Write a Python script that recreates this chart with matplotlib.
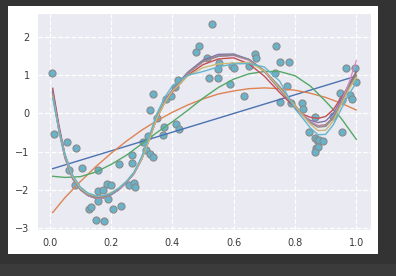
import matplotlib
matplotlib.use("Agg")
import matplotlib.pyplot as plt
from matplotlib.patches import Rectangle

# puntos de datos (ruidosos)
pts_x = [0.008, 0.015, 0.055, 0.087, 0.062, 0.107, 0.159, 0.227, 0.083, 0.186,
         0.199, 0.159, 0.174, 0.158, 0.190, 0.128, 0.136, 0.207, 0.234, 0.152,
         0.176, 0.259, 0.275, 0.277, 0.267, 0.267, 0.313, 0.305, 0.327, 0.338,
         0.371, 0.320, 0.374, 0.349, 0.327, 0.338, 0.381, 0.397, 0.409, 0.420,
         0.413, 0.423, 0.478, 0.487, 0.514, 0.519, 0.530, 0.551, 0.550, 0.550,
         0.589, 0.596, 0.602, 0.651, 0.671, 0.673, 0.635, 0.738, 0.752, 0.781,
         0.736, 0.774, 0.752, 0.786, 0.822, 0.825, 0.866, 0.925, 0.846, 0.865,
         0.872, 0.880, 0.893, 0.869, 0.875, 0.864, 0.952, 0.966, 0.997, 1.000,
         0.948, 0.952, 0.980, 0.985]
pts_y = [1.07, -0.55, -0.75, -0.92, -1.48, -1.44, -1.49, -1.33, -1.88, -1.86,
         -1.89, -2.04, -2.01, -2.29, -2.25, -2.50, -2.46, -2.50, -2.43, -2.80,
         -2.83, -1.88, -1.82, -1.94, -1.31, -1.09, -0.95, -0.74, -1.07, -1.14,
         -0.56, -0.58, -0.36, -0.13, 0.10, 0.51, 0.39, 0.47, 0.69, 0.87,
         -0.28, -0.42, 1.60, 1.77, 1.45, 0.94, 2.36, 1.33, 1.16, 0.93,
         0.77, 1.24, 1.18, 1.24, 1.55, 1.46, 0.45, 1.76, 1.36, 1.36,
         1.05, 0.71, 0.31, 0.27, 0.27, 0.11, -0.10, -0.08, -0.48, -0.64,
         -0.70, -0.70, -0.72, -0.92, -0.88, -1.00, -0.49, 1.18, 1.18, 0.83,
         0.53, 0.34, 0.49, 0.38]

# ajuste grado 1
lin_x = [0.01, 1.0]
lin_y = [-1.45, 0.98]

# ajustes grado 2 y 3
low_x = [0.01, 0.05, 0.1, 0.15, 0.2, 0.25, 0.3, 0.35, 0.4, 0.45, 0.5,
         0.55, 0.6, 0.65, 0.7, 0.75, 0.8, 0.85, 0.9, 0.95, 1.0]
quad_y = [-2.60, -2.21, -1.79, -1.40, -1.05, -0.73, -0.44, -0.19, 0.03, 0.22, 0.38,
          0.51, 0.59, 0.65, 0.67, 0.65, 0.61, 0.53, 0.42, 0.27, 0.09]
cub_y = [-1.65, -1.68, -1.66, -1.54, -1.34, -1.10, -0.80, -0.50, -0.22, 0.08, 0.40,
         0.68, 0.90, 1.04, 1.10, 1.10, 0.99, 0.72, 0.32, -0.12, -0.68]

# ajustes de grado alto
high_x = [0.01, 0.03, 0.05, 0.075, 0.1, 0.125, 0.15, 0.175, 0.2, 0.225, 0.25,
          0.275, 0.3, 0.325, 0.35, 0.375, 0.4, 0.45, 0.5, 0.55, 0.6, 0.65,
          0.7, 0.75, 0.8, 0.825, 0.85, 0.875, 0.9, 0.925, 0.95, 0.975, 1.0]
fit4 = [0.66, -0.30, -1.08, -1.66, -1.96, -2.12, -2.19, -2.19, -2.12, -1.99, -1.80,
        -1.56, -1.18, -0.68, -0.12, 0.28, 0.56, 1.00, 1.28, 1.43, 1.46, 1.30,
        0.98, 0.55, 0.15, -0.02, -0.10, -0.13, -0.08, 0.10, 0.40, 0.72, 1.00]
fit5 = [0.60, -0.36, -1.12, -1.69, -1.99, -2.15, -2.23, -2.22, -2.14, -2.01, -1.82,
        -1.58, -1.20, -0.66, -0.08, 0.32, 0.62, 1.08, 1.40, 1.55, 1.56, 1.42,
        1.10, 0.63, 0.17, -0.05, -0.18, -0.24, -0.20, 0.00, 0.35, 0.75, 1.10]
fit6 = [0.55, -0.40, -1.15, -1.71, -2.00, -2.15, -2.22, -2.21, -2.13, -2.00, -1.81,
        -1.58, -1.20, -0.67, -0.09, 0.30, 0.60, 1.06, 1.37, 1.51, 1.53, 1.40,
        1.12, 0.67, 0.19, -0.04, -0.22, -0.32, -0.30, -0.10, 0.28, 0.70, 1.08]
fit7 = [0.50, -0.45, -1.18, -1.72, -2.01, -2.16, -2.23, -2.22, -2.13, -2.00, -1.81,
        -1.58, -1.21, -0.67, -0.09, 0.30, 0.60, 1.05, 1.35, 1.50, 1.52, 1.40,
        1.12, 0.70, 0.21, -0.03, -0.22, -0.33, -0.33, -0.12, 0.28, 0.78, 1.38]
fit8 = [0.48, -0.44, -1.16, -1.71, -2.00, -2.15, -2.22, -2.21, -2.13, -1.99, -1.80,
        -1.57, -1.19, -0.66, -0.08, 0.31, 0.60, 1.05, 1.36, 1.50, 1.53, 1.42,
        1.13, 0.70, 0.22, -0.04, -0.24, -0.36, -0.34, -0.12, 0.26, 0.68, 1.00]
fit9 = [0.45, -0.42, -1.10, -1.66, -1.96, -2.11, -2.17, -2.16, -2.08, -1.96, -1.78,
        -1.56, -1.20, -0.70, -0.12, 0.28, 0.58, 0.98, 1.20, 1.30, 1.32, 1.34,
        1.12, 0.66, 0.20, -0.05, -0.28, -0.45, -0.44, -0.20, 0.22, 0.62, 0.95]
fit10 = [0.40, -0.42, -1.08, -1.62, -1.93, -2.09, -2.16, -2.16, -2.10, -1.97, -1.79,
         -1.54, -1.14, -0.58, 0.00, 0.42, 0.72, 1.00, 1.10, 1.22, 1.30, 1.31,
         1.22, 0.85, 0.12, -0.12, -0.38, -0.56, -0.55, -0.30, 0.10, 0.50, 0.80]

colores = ['#4C72B0', '#DD8452', '#55A868', '#C44E52', '#8172B3', '#937860',
           '#DA8BC3', '#8C8C8C', '#CCB974', '#64B5CD']

fig = plt.figure(figsize=(3.96, 2.76), dpi=100, facecolor='#333333')
# zona blanca de la figura (detrás de los ejes)
fig.patches.append(Rectangle((8 / 396, 1 - 254 / 276), 370 / 396, 248 / 276,
                             transform=fig.transFigure, facecolor='white', zorder=-10))
fig.patches.append(Rectangle((0, 0), 1, 12 / 276, transform=fig.transFigure,
                             facecolor='#3b3b3b', zorder=-10))

ax = fig.add_axes([38 / 396, 1 - 230 / 276, 333 / 396, 216 / 276])
ax.set_facecolor('#EAEAF2')
for s in ax.spines.values():
    s.set_visible(False)
ax.grid(True, color='white', linestyle='--', linewidth=0.9)
ax.set_axisbelow(True)

ax.scatter(pts_x, pts_y, s=26, color='#68B2CA', edgecolors='#8a8a8a', linewidths=0.8, zorder=1)

ax.plot(lin_x, lin_y, color=colores[0], lw=1.0)
ax.plot(low_x, quad_y, color=colores[1], lw=1.0)
ax.plot(low_x, cub_y, color=colores[2], lw=1.0)
for yy, c in zip([fit4, fit5, fit6, fit7, fit8, fit9, fit10], colores[3:]):
    ax.plot(high_x, yy, color=c, lw=1.0)

ax.set_xlim(-0.038, 1.048)
ax.set_ylim(-3.06, 2.61)
ax.set_xticks([0.0, 0.2, 0.4, 0.6, 0.8, 1.0])
ax.set_yticks([-3, -2, -1, 0, 1, 2])
ax.tick_params(length=0, labelsize=7, labelcolor='#3a3a3a', pad=6)

fig.savefig('out.png', dpi=100, facecolor=fig.get_facecolor())
